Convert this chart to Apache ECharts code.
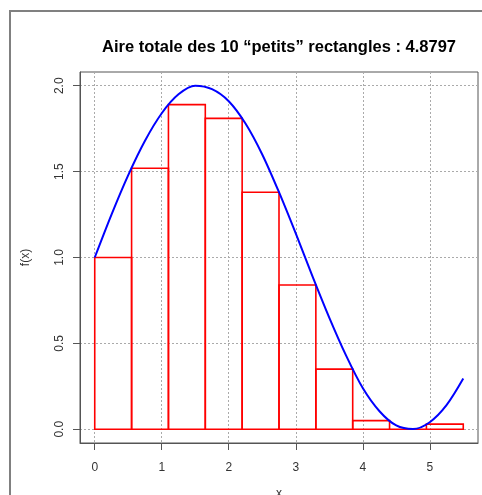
<!DOCTYPE html>
<html>
<head>
<meta charset="utf-8">
<script src="https://cdn.jsdelivr.net/npm/echarts@6/dist/echarts.min.js"></script>
<style>
  html, body { margin: 0; padding: 0; background: #fff; }
  #chart { width: 482px; height: 495px; }
</style>
</head>
<body>
<div id="chart"></div>
<script>
// courbe f(x)
const curveX = [0, 0.25, 0.5, 0.75, 1, 1.25, 1.5, 1.75, 2, 2.25, 2.5, 2.75, 3, 3.25, 3.5, 3.75, 4, 4.25, 4.5, 4.75, 5, 5.25, 5.5];
const curveY = [1.00, 1.25, 1.48, 1.68, 1.84, 1.95, 2.00, 1.98, 1.91, 1.78, 1.60, 1.38, 1.14, 0.89, 0.65, 0.43, 0.24, 0.105, 0.022, 0.001, 0.041, 0.14, 0.295];

// les 10 "petits" rectangles
const rectLeft = [0, 0.55, 1.1, 1.65, 2.2, 2.75, 3.3, 3.85, 4.4, 4.95];
const rectRight = [0.55, 1.1, 1.65, 2.2, 2.75, 3.3, 3.85, 4.4, 4.95, 5.5];
const rectHeight = [1.00, 1.52, 1.89, 1.81, 1.38, 0.84, 0.35, 0.05, 0.00, 0.03];

const xTicks = [0, 1, 2, 3, 4, 5];
const yTicks = [0, 0.5, 1, 1.5, 2];

const chart = echarts.init(document.getElementById('chart'));

const font = 'Liberation Sans, Arial, sans-serif';

const option = {
  animation: false,
  graphic: [{
    type: 'rect',
    shape: { x: 10, y: 11, width: 520, height: 520 },
    style: { fill: 'none', stroke: '#808080', lineWidth: 2 },
    silent: true
  }],
  title: {
    text: 'Aire totale des 10 \u201cpetits\u201d rectangles : 4.8797',
    left: 274,
    top: 34,
    textAlign: 'center',
    textStyle: { fontFamily: font, fontSize: 16.5, fontWeight: 'bold', color: '#000' }
  },
  grid: {
    left: 80, top: 72, right: 4, bottom: 52,
    outerBoundsMode: 'none',
    containLabel: false,
    show: true, borderColor: '#555', borderWidth: 1, backgroundColor: 'transparent'
  },
  xAxis: {
    type: 'value',
    min: -0.22,
    max: 5.72,
    name: 'x',
    nameLocation: 'middle',
    nameGap: 45,
    nameTextStyle: { fontFamily: font, fontSize: 12, color: '#333' },
    axisLine: { show: true, onZero: false, lineStyle: { color: '#555', width: 1 } },
    axisTick: { show: true, inside: false, length: 7, customValues: xTicks, lineStyle: { color: '#555', width: 1 } },
    axisLabel: { customValues: xTicks, margin: 19, fontFamily: font, fontSize: 12, color: '#333' },
    splitLine: { show: true, lineStyle: { color: '#aaa', type: [2, 2], width: 1 } }
  },
  yAxis: {
    type: 'value',
    min: -0.08,
    max: 2.08,
    name: 'f(x)',
    nameLocation: 'middle',
    nameGap: 48,
    nameRotate: 90,
    nameTextStyle: { fontFamily: font, fontSize: 12, color: '#333' },
    axisLine: { show: true, onZero: false, lineStyle: { color: '#555', width: 1 } },
    axisTick: { show: true, inside: false, length: 7, customValues: yTicks, lineStyle: { color: '#555', width: 1 } },
    axisLabel: {
      customValues: yTicks, rotate: 90, margin: 14,
      fontFamily: font, fontSize: 12, color: '#333',
      formatter: v => v.toFixed(1)
    },
    splitLine: { show: true, lineStyle: { color: '#aaa', type: [2, 2], width: 1 } }
  },
  series: [
    {
      type: 'custom',
      data: rectLeft.map((x0, i) => [x0, rectRight[i], rectHeight[i]]),
      encode: { x: [0, 1], y: 2 },
      renderItem: (params, api) => {
        const p0 = api.coord([api.value(0), 0]);
        const p1 = api.coord([api.value(1), api.value(2)]);
        return {
          type: 'rect',
          shape: { x: p0[0], y: p1[1], width: p1[0] - p0[0], height: p0[1] - p1[1] },
          style: { fill: 'none', stroke: '#ff0000', lineWidth: 1.6 }
        };
      },
      z: 2
    },
    {
      type: 'line',
      data: curveX.map((x, i) => [x, curveY[i]]),
      smooth: 0.3,
      showSymbol: false,
      lineStyle: { color: '#0000ff', width: 2 },
      z: 3
    }
  ]
};

chart.setOption(option);
</script>
</body>
</html>
